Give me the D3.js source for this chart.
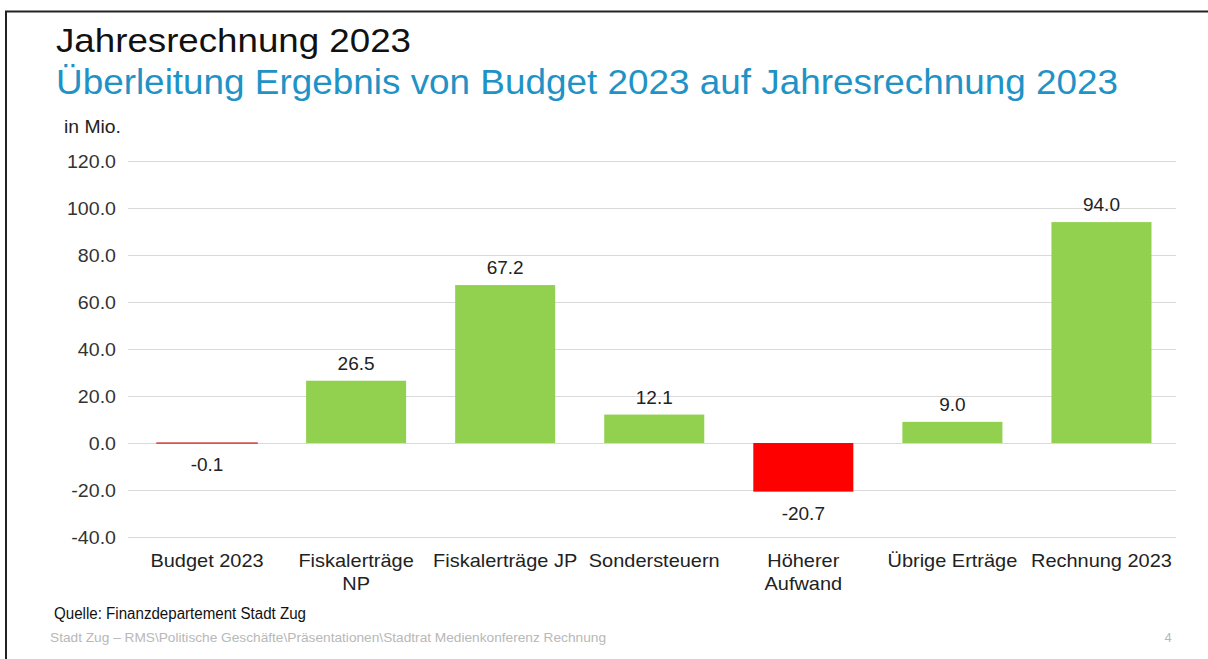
<!DOCTYPE html>
<html><head><meta charset="utf-8">
<script src="https://cdn.jsdelivr.net/npm/d3@7"></script>
<style>
html,body{margin:0;padding:0;background:#fff;}
svg{display:block;font-family:"Liberation Sans",Arial,sans-serif;}
</style></head>
<body>
<svg id="c" width="1208" height="659"></svg>
<script>
const categories = [["Budget 2023"],["Fiskalerträge","NP"],["Fiskalerträge JP"],["Sondersteuern"],["Höherer","Aufwand"],["Übrige Erträge"],["Rechnung 2023"]];
const values = [-0.1, 26.5, 67.2, 12.1, -20.7, 9.0, 94.0];
const yTicks = [-40, -20, 0, 20, 40, 60, 80, 100, 120];
const title = "Jahresrechnung 2023";
const subtitle = "Überleitung Ergebnis von Budget 2023 auf Jahresrechnung 2023";
const unitLabel = "in Mio.";
const source = "Quelle: Finanzdepartement Stadt Zug";
const footer = "Stadt Zug – RMS\\Politische  Geschäfte\\Präsentationen\\Stadtrat Medienkonferenz Rechnung";
const pageNo = "4";

const loc = d3.formatLocale({decimal:".", thousands:",", grouping:[3], currency:["",""], minus:"-"});
const fmt = loc.format(".1f");

function stretch(sel, k){
  sel.each(function(){
    const w = this.getComputedTextLength();
    d3.select(this).attr("textLength", w*k).attr("lengthAdjust","spacingAndGlyphs");
  });
}

const svg = d3.select("#c");
// frame
svg.append("line").attr("x1",5).attr("x2",1208).attr("y1",11.5).attr("y2",11.5).attr("stroke","#222").attr("stroke-width",2);
svg.append("line").attr("x1",6).attr("x2",6).attr("y1",11).attr("y2",659).attr("stroke","#222").attr("stroke-width",2);

svg.append("text").attr("x",56).attr("y",52).attr("font-size",34).attr("fill","#111")
  .attr("textLength",355).attr("lengthAdjust","spacingAndGlyphs").text(title);
svg.append("text").attr("x",56).attr("y",94).attr("font-size",35).attr("fill","#1f93c6")
  .attr("textLength",1062).attr("lengthAdjust","spacingAndGlyphs").text(subtitle);
svg.append("text").attr("x",64).attr("y",133).attr("font-size",18).attr("fill","#222")
  .attr("textLength",57).attr("lengthAdjust","spacingAndGlyphs").text(unitLabel);

const x = d3.scaleBand().domain(d3.range(categories.length)).range([132.5,1176]).paddingInner(0.329).paddingOuter(0.1645);
const y = d3.scaleLinear().domain([-40,120]).range([537,161]);

svg.append("g").selectAll("line").data(yTicks).join("line")
  .attr("x1",128).attr("x2",1176).attr("y1",d=>Math.round(y(d))+0.5).attr("y2",d=>Math.round(y(d))+0.5)
  .attr("stroke","#d9d9d9").attr("stroke-width",1);

const yAxis = d3.axisLeft(y).tickValues(yTicks).tickFormat(fmt).tickSize(0).tickPadding(12);
const ga = svg.append("g").attr("transform","translate(128,0)").call(yAxis);
ga.select(".domain").remove();
ga.selectAll("text").attr("font-size",18.5).attr("fill","#333").attr("dy","0.37em")
  .attr("font-family","'Liberation Sans',Arial,sans-serif").call(stretch,1.06);

svg.append("g").selectAll("rect").data(values).join("rect")
  .attr("x",(d,i)=>x(i)).attr("width",x.bandwidth())
  .attr("y",d=>y(Math.max(0,d))).attr("height",d=>Math.abs(y(d)-y(0)))
  .attr("fill",d=>d<0?"#ff0000":"#92d050")
  .attr("stroke",(d,i)=>i===0?"#d9534f":"none").attr("stroke-width",1.5);

svg.append("g").selectAll("text").data(values).join("text")
  .attr("x",(d,i)=>x(i)+x.bandwidth()/2)
  .attr("y",d=>d>=0?y(d)-11:y(d)+28)
  .attr("text-anchor","middle").attr("font-size",19).attr("fill","#222")
  .text(d=>fmt(d));

const gc = svg.append("g");
categories.forEach((lines,i)=>{
  lines.forEach((t,j)=>{
    gc.append("text").attr("x",x(i)+x.bandwidth()/2).attr("y",567+j*23)
      .attr("text-anchor","middle").attr("font-size",19).attr("fill","#222").text(t);
  });
});
gc.selectAll("text").call(stretch,1.05);

svg.append("text").attr("x",54).attr("y",619).attr("font-size",16).attr("fill","#111")
  .attr("font-family","'Liberation Sans Narrow','Liberation Sans',Arial,sans-serif")
  .attr("textLength",252).attr("lengthAdjust","spacingAndGlyphs").text(source);
svg.append("text").attr("x",50).attr("y",642).attr("font-size",13).attr("fill","#b8b8b8")
  .attr("textLength",556).attr("lengthAdjust","spacingAndGlyphs").text(footer);
svg.append("text").attr("x",1168).attr("y",642).attr("font-size",13).attr("fill","#b8b8b8").attr("text-anchor","middle").text(pageNo);
</script>
</body></html>
